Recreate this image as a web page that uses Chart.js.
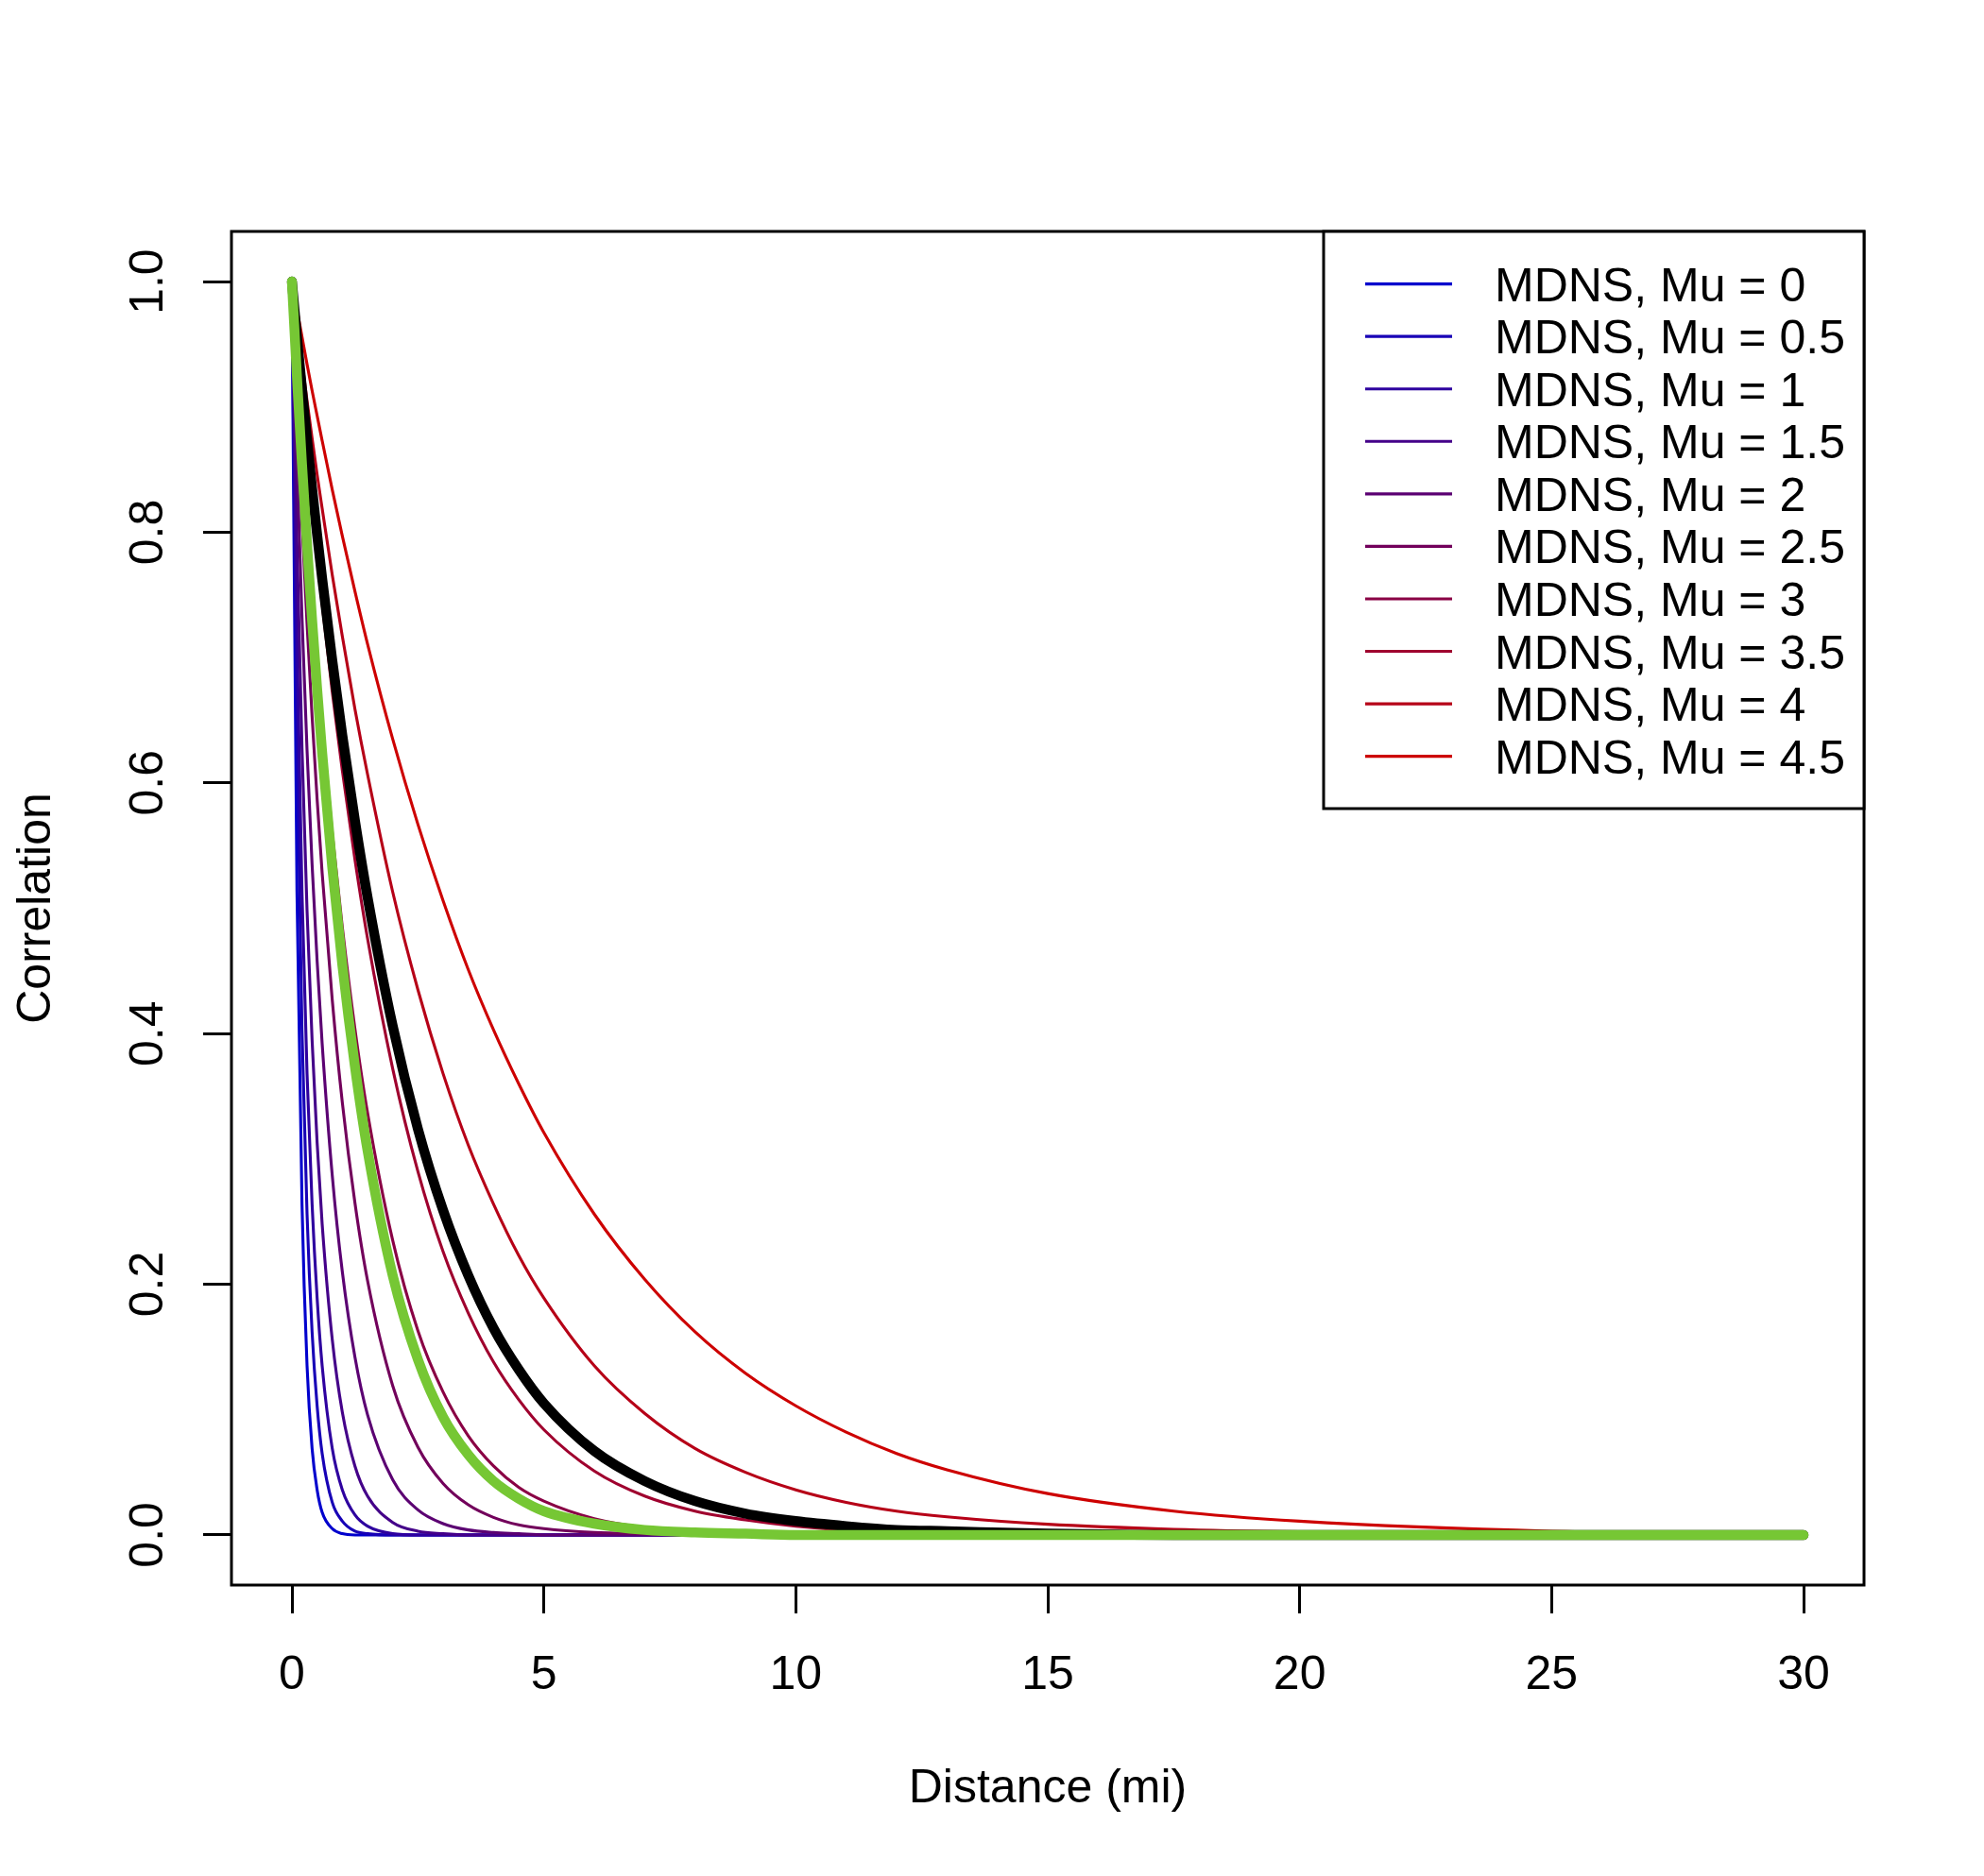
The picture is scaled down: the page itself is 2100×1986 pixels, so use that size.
<!DOCTYPE html>
<html>
<head>
<meta charset="utf-8">
<title>MDNS correlation vs distance</title>
<script src="https://cdn.jsdelivr.net/npm/chart.js@4.4.1/dist/chart.umd.min.js"></script>
<style>
  html, body { margin: 0; padding: 0; background: #fff; }
  #wrap { width: 2100px; height: 1986px; }
</style>
</head>
<body>
<div id="wrap"><canvas id="corrChart" width="2100" height="1986"></canvas></div>
<script>
const distance = [0, 0.1, 0.2, 0.3, 0.4, 0.5, 0.6, 0.8, 1, 1.25, 1.5, 2, 2.5, 3, 3.5, 4, 4.5, 5, 6, 7, 8, 9, 10, 11, 12, 13, 15, 17.5, 20, 25, 30];

// MDNS curves, one per Mu
const mdnsMu0   = [1, .513, .264, .135, .069, .036, .018, .005, .001, 0, 0, 0, 0, 0, 0, 0, 0, 0, 0, 0, 0, 0, 0, 0, 0, 0, 0, 0, 0, 0, 0];
const mdnsMu05  = [1, .635, .403, .256, .162, .103, .065, .026, .011, .003, .001, 0, 0, 0, 0, 0, 0, 0, 0, 0, 0, 0, 0, 0, 0, 0, 0, 0, 0, 0, 0];
const mdnsMu1   = [1, .717, .513, .368, .264, .189, .135, .069, .036, .016, .007, .001, 0, 0, 0, 0, 0, 0, 0, 0, 0, 0, 0, 0, 0, 0, 0, 0, 0, 0, 0];
const mdnsMu15  = [1, .792, .628, .498, .395, .313, .248, .156, .098, .055, .031, .010, .003, .001, 0, 0, 0, 0, 0, 0, 0, 0, 0, 0, 0, 0, 0, 0, 0, 0, 0];
const mdnsMu2   = [1, .855, .732, .626, .535, .458, .392, .287, .210, .142, .096, .044, .020, .009, .004, .002, .001, 0, 0, 0, 0, 0, 0, 0, 0, 0, 0, 0, 0, 0, 0];
const mdnsMu25  = [1, .899, .808, .727, .653, .587, .528, .427, .345, .265, .203, .119, .070, .041, .024, .014, .008, .005, .002, .001, 0, 0, 0, 0, 0, 0, 0, 0, 0, 0, 0];
const mdnsMu3   = [1, .930, .865, .805, .748, .696, .647, .560, .485, .404, .337, .235, .163, .114, .079, .055, .038, .027, .013, .006, .003, .001, .001, 0, 0, 0, 0, 0, 0, 0, 0];
const mdnsMu35  = [1, .952, .906, .862, .820, .781, .743, .673, .610, .539, .476, .372, .290, .226, .177, .138, .108, .084, .051, .031, .019, .012, .007, .004, .003, .002, .001, 0, 0, 0, 0];
const mdnsMu4   = [1, .967, .936, .905, .875, .846, .819, .766, .717, .659, .607, .513, .435, .368, .311, .264, .223, .189, .135, .097, .069, .050, .036, .026, .019, .0145, .0085, .0045, .0025, .0008, 0];
const mdnsMu45  = [1, .978, .956, .934, .913, .893, .873, .834, .797, .753, .711, .635, .567, .506, .451, .403, .360, .321, .256, .204, .162, .129, .103, .082, .065, .052, .033, .019, .011, .003, .001];

// the two thick curves (no legend entry)
const blackCurve = [1, .956, .914, .874, .835, .798, .763, .698, .638, .570, .509, .406, .324, .259, .207, .165, .132, .105, .067, .043, .027, .017, .011, .007, .004, .003, .001, 0, 0, 0, 0];
const greenCurve = [1, .924, .854, .790, .730, .675, .624, .533, .455, .374, .307, .207, .140, .094, .064, .043, .029, .019, .009, .004, .002, .001, 0, 0, 0, 0, 0, 0, 0, 0, 0];

const mdnsLabels = ['MDNS, Mu = 0', 'MDNS, Mu = 0.5', 'MDNS, Mu = 1', 'MDNS, Mu = 1.5', 'MDNS, Mu = 2',
                    'MDNS, Mu = 2.5', 'MDNS, Mu = 3', 'MDNS, Mu = 3.5', 'MDNS, Mu = 4', 'MDNS, Mu = 4.5'];
const mdnsSeries = [mdnsMu0, mdnsMu05, mdnsMu1, mdnsMu15, mdnsMu2, mdnsMu25, mdnsMu3, mdnsMu35, mdnsMu4, mdnsMu45];
const mdnsColors = ['#0000CD', '#1700B6', '#2E009F', '#440089', '#5B0072',
                    '#72005B', '#890044', '#9F002E', '#B60017', '#CD0000'];

const xTicks = [0, 5, 10, 15, 20, 25, 30];
const yTicks = [0, 0.2, 0.4, 0.6, 0.8, 1.0];
const yTickLabels = ['0.0', '0.2', '0.4', '0.6', '0.8', '1.0'];

const FONT = '50px "Liberation Sans", Arial, Helvetica, sans-serif';

function toPoints(values) {
  return values.map((v, i) => ({ x: distance[i], y: v }));
}

const datasets = [];
mdnsSeries.forEach((series, i) => {
  datasets.push({
    label: mdnsLabels[i],
    data: toPoints(series),
    borderColor: mdnsColors[i],
    borderWidth: 3.1,
    order: 20 - i
  });
});
datasets.push({ label: 'black', data: toPoints(blackCurve), borderColor: '#000000', borderWidth: 10.5, order: 1 });
datasets.push({ label: 'green', data: toPoints(greenCurve), borderColor: '#76C734', borderWidth: 10.5, order: 0 });

// R-style frame, axis labels and legend box
const rFrame = {
  id: 'rFrame',
  afterDatasetsDraw(chart) {
    const { ctx, chartArea: a, scales } = chart;
    const xs = scales.x, ys = scales.y;
    ctx.save();
    ctx.strokeStyle = '#000';
    ctx.lineWidth = 3;
    ctx.strokeRect(a.left, a.top, a.right - a.left, a.bottom - a.top);

    ctx.fillStyle = '#000';
    ctx.font = FONT;
    ctx.textBaseline = 'alphabetic';
    ctx.textAlign = 'center';
    xTicks.forEach(v => ctx.fillText(String(v), xs.getPixelForValue(v), 1788));
    ctx.fillText('Distance (mi)', (a.left + a.right) / 2, 1908);

    yTicks.forEach((v, i) => {
      ctx.save();
      ctx.translate(172, ys.getPixelForValue(v));
      ctx.rotate(-Math.PI / 2);
      ctx.fillText(yTickLabels[i], 0, 0);
      ctx.restore();
    });
    ctx.save();
    ctx.translate(53, (a.top + a.bottom) / 2);
    ctx.rotate(-Math.PI / 2);
    ctx.fillText('Correlation', 0, 0);
    ctx.restore();

    // legend
    const box = { left: 1401, top: 245, right: a.right, bottom: 856 };
    ctx.fillStyle = '#fff';
    ctx.fillRect(box.left, box.top, box.right - box.left, box.bottom - box.top);
    ctx.strokeRect(box.left, box.top, box.right - box.left, box.bottom - box.top);
    ctx.textAlign = 'left';
    mdnsLabels.forEach((label, i) => {
      const rowY = 300.6 + i * 55.56;
      ctx.strokeStyle = mdnsColors[i];
      ctx.lineWidth = 3.1;
      ctx.beginPath();
      ctx.moveTo(1445, rowY);
      ctx.lineTo(1537, rowY);
      ctx.stroke();
      ctx.fillStyle = '#000';
      ctx.fillText(label, 1582, rowY + 18);
    });
    ctx.restore();
  }
};

new Chart(document.getElementById('corrChart'), {
  type: 'line',
  data: { datasets: datasets },
  options: {
    responsive: false,
    animation: false,
    devicePixelRatio: 1,
    layout: { padding: { top: 245, right: 127, left: 0, bottom: 0 } },
    elements: {
      point: { radius: 0 },
      line: { cubicInterpolationMode: 'monotone', borderCapStyle: 'round', borderJoinStyle: 'round', fill: false }
    },
    plugins: { legend: { display: false }, tooltip: { enabled: false }, title: { display: false } },
    scales: {
      x: {
        type: 'linear',
        min: -1.2,
        max: 31.2,
        afterBuildTicks: scale => { scale.ticks = xTicks.map(v => ({ value: v })); },
        afterFit: scale => { scale.height = 308; },
        ticks: { display: false },
        border: { display: false },
        grid: { drawOnChartArea: false, drawTicks: true, tickLength: 30, tickWidth: 3, tickColor: '#000' }
      },
      y: {
        type: 'linear',
        min: -0.04,
        max: 1.04,
        afterBuildTicks: scale => { scale.ticks = yTicks.map(v => ({ value: v })); },
        afterFit: scale => { scale.width = 245; },
        ticks: { display: false },
        border: { display: false },
        grid: { drawOnChartArea: false, drawTicks: true, tickLength: 30, tickWidth: 3, tickColor: '#000' }
      }
    }
  },
  plugins: [rFrame]
});
</script>
</body>
</html>
